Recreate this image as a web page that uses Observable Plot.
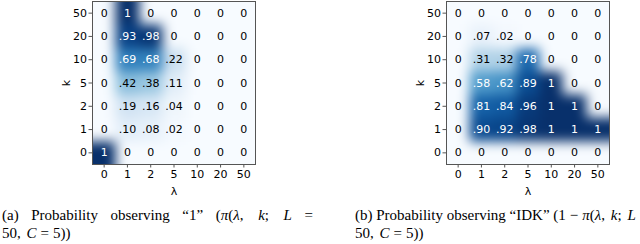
<!DOCTYPE html>
<html>
<head>
<meta charset="utf-8">
<script src="https://cdn.jsdelivr.net/npm/d3@7"></script>
<script src="https://cdn.jsdelivr.net/npm/@observablehq/plot@0.6"></script>
<style>
  html, body { margin: 0; padding: 0; background: #fff; width: 640px; height: 244px; overflow: hidden; position: relative; }
  .chart { position: absolute; top: 0; }
  .cap { position: absolute; font-family: "Liberation Serif", "Times New Roman", serif; font-size: 15px; line-height: 18px; color: #000; white-space: nowrap; }
  .cap .l1 { text-align: justify; text-align-last: justify; white-space: normal; }
  .cap i { font-style: italic; }
  .m { white-space: nowrap; }
  .th { margin-right: 2px; }
  .op { margin: 0 4px; }
</style>
</head>
<body>
<div id="left" class="chart" style="left:0px"></div>
<div id="right" class="chart" style="left:320px"></div>
<div class="cap" style="left:2px; top:206px; width:311px;">
  <div class="l1">(a) Probability observing “1” <span class="m">(<i>π</i>(<i>λ</i>,<span class="th"></span> <i>k</i>;<span class="th"></span> <i>L</i></span> =</div>
  <div>50,<span class="th"></span> <i>C</i><span class="op">=</span>5))</div>
</div>
<div class="cap" style="left:355px; top:206px; width:340px;">
  <div>(b) Probability observing “IDK” (1<span class="op">−</span><i>π</i>(<i>λ</i>,<span class="th"></span> <i>k</i>;<span class="th"></span> <i>L</i><span class="op">=</span></div>
  <div>50,<span class="th"></span> <i>C</i><span class="op">=</span>5))</div>
</div>
<script>
// Categories (x: lambda, y: k)
const lambdas = ["0", "1", "2", "5", "10", "20", "50"];
const ks = ["0", "1", "2", "5", "10", "20", "50"];

// Rows listed from k = 50 (top) down to k = 0 (bottom); columns lambda 0..50
const rowsTopDown = ["50", "20", "10", "5", "2", "1", "0"];
const probOne = [
  [0, 1, 0, 0, 0, 0, 0],
  [0, 0.93, 0.98, 0, 0, 0, 0],
  [0, 0.69, 0.68, 0.22, 0, 0, 0],
  [0, 0.42, 0.38, 0.11, 0, 0, 0],
  [0, 0.19, 0.16, 0.04, 0, 0, 0],
  [0, 0.10, 0.08, 0.02, 0, 0, 0],
  [1, 0, 0, 0, 0, 0, 0]
];
const probIDK = [
  [0, 0, 0, 0, 0, 0, 0],
  [0, 0.07, 0.02, 0, 0, 0, 0],
  [0, 0.31, 0.32, 0.78, 0, 0, 0],
  [0, 0.58, 0.62, 0.89, 1, 0, 0],
  [0, 0.81, 0.84, 0.96, 1, 1, 0],
  [0, 0.90, 0.92, 0.98, 1, 1, 1],
  [0, 0, 0, 0, 0, 0, 0]
];

function toTable(matrix) {
  const out = [];
  matrix.forEach((row, r) => {
    const yi = ks.indexOf(rowsTopDown[r]);
    row.forEach((v, xi) => out.push({xi, yi, v}));
  });
  return out;
}

function fmt(v) {
  if (v === 0) return "0";
  if (v === 1) return "1";
  return d3.format(".2f")(v).replace(/^0/, "");
}

function heat(matrix, marginLeft, width) {
  const data = toTable(matrix);
  return Plot.plot({
    width,
    height: 196,
    marginLeft,
    marginRight: 5,
    marginTop: 1,
    marginBottom: 32,
    style: {fontFamily: "DejaVu Sans", fontSize: "11px", color: "#000", background: "transparent"},
    x: {type: "linear", domain: [-0.5, 6.5]},
    y: {type: "linear", domain: [-0.5, 6.5]},
    color: {type: "linear", scheme: "blues", domain: [0, 1]},
    marks: [
      Plot.raster(data, {x: "xi", y: "yi", fill: "v", interpolate: "nearest", blur: 5,
        x1: -0.5, x2: 6.5, y1: -0.5, y2: 6.5}),
      Plot.text(data.filter(d => d.v > 0.5), {x: "xi", y: "yi", text: d => fmt(d.v), fill: "white", fontSize: 11}),
      Plot.text(data.filter(d => d.v <= 0.5), {x: "xi", y: "yi", text: d => fmt(d.v), fill: "black", fontSize: 11}),
      Plot.frame({stroke: "#555", strokeWidth: 1}),
      Plot.axisX({ticks: d3.range(lambdas.length), tickFormat: i => lambdas[i], tickSize: 3.5, tickPadding: 2,
        label: "λ", labelAnchor: "center", labelArrow: "none", labelOffset: 30, stroke: "#555"}),
      Plot.axisY({ticks: d3.range(ks.length), tickFormat: i => ks[i], tickSize: 3.5, tickPadding: 2,
        label: "k", labelAnchor: "center", labelArrow: "none", labelOffset: 30, stroke: "#555"})
    ]
  });
}

document.getElementById("left").appendChild(heat(probOne, 92, 260));
document.getElementById("right").appendChild(heat(probIDK, 126, 294));
</script>
</body>
</html>
